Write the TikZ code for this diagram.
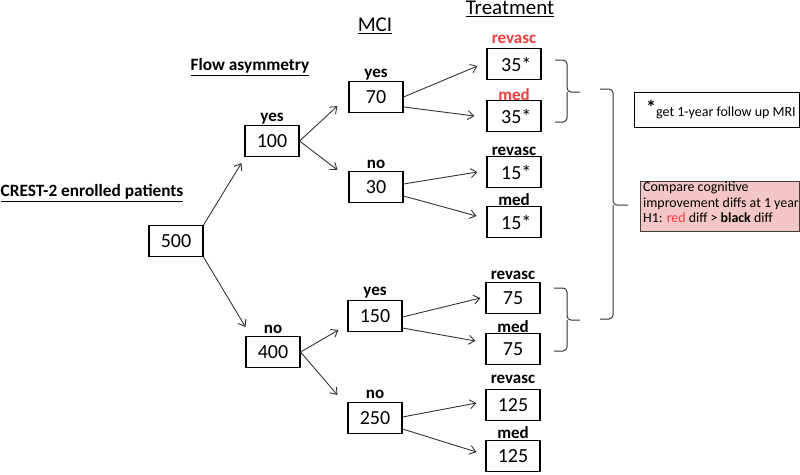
\documentclass[tikz,border=0pt]{standalone}
\usepackage{fontspec}
\setmainfont{Carlito}
\usetikzlibrary{arrows.meta,calc}
\definecolor{redtxt}{RGB}{240,60,60}
\definecolor{pinkfill}{RGB}{244,198,200}
\begin{document}
\begin{tikzpicture}[x=1pt,y=-1pt,
  box/.style={draw, line width=1.1pt, minimum width=54pt, minimum height=31pt, inner sep=0pt, font=\fontsize{20}{22}\selectfont},
  lab/.style={inner sep=0pt, font=\bfseries\fontsize{17}{19}\selectfont},
  head/.style={inner sep=0pt, font=\fontsize{21}{23}\selectfont},
  bhead/.style={inner sep=0pt, font=\bfseries\fontsize{17.3}{19}\selectfont},
  arr/.style={draw=black!80, line width=0.9pt, -{Straight Barb[length=6pt,width=9pt]}},
  brk/.style={draw=black!80, line width=1pt, rounded corners=4pt}
]
\useasboundingbox (0,0) rectangle (800,474);

% headings
\node[bhead] (hcrest) at (92,193) {\underline{CREST-2 enrolled patients}};
\node[bhead] (hflow) at (250,67) {\underline{Flow asymmetry}};
\node[head] (hmci) at (375,26) {\underline{MCI}};
\node[head] (htreat) at (510,9) {\underline{Treatment}};

% boxes
\node[box] (b500) at (176,241) {500};
\node[box] (b100) at (272,141) {100};
\node[box] (b400) at (273,352) {400};
\node[box] (b70) at (376,97) {70};
\node[box] (b30) at (376,187) {30};
\node[box] (b150) at (375,316) {150};
\node[box] (b250) at (375,418) {250};
\node[box] (r1) at (514,64) {\ 35*};
\node[box] (m1) at (514,116) {\ 35*};
\node[box] (r2) at (514,172) {\ 15*};
\node[box] (m2) at (514,222) {\ 15*};
\node[box] (r3) at (513,298) {75};
\node[box] (m3) at (513,349) {75};
\node[box] (r4) at (513,405) {125};
\node[box] (m4) at (513,456) {125};

% labels
\node[lab] (l100) at (272,119) {yes};
\node[lab] (l400) at (273,329) {no};
\node[lab] (l70) at (376,75) {yes};
\node[lab] (l30) at (376,164) {no};
\node[lab] (l150) at (375,293) {yes};
\node[lab] (l250) at (375,394) {no};
\node[lab,text=redtxt] (lr1) at (514,39) {revasc};
\node[lab,text=redtxt] (lm1) at (514,95) {med};
\node[lab] (lr2) at (514,151) {revasc};
\node[lab] (lm2) at (514,200) {med};
\node[lab] (lr3) at (513,275) {revasc};
\node[lab] (lm3) at (513,327) {med};
\node[lab] (lr4) at (513,379) {revasc};
\node[lab] (lm4) at (513,433) {med};

% arrows
\draw[arr] (b500.north east) -- ($(b100.south west)+(-3,6)$);
\draw[arr] (b500.south east) -- ($(b400.north west)+(0,-9)$);
\draw[arr] (b100.east) -- ($(b70.west)+(-11,9)$);
\draw[arr] (b100.east) -- ($(b30.west)+(-11,-17)$);
\draw[arr] (b400.east) -- ($(b150.west)+(-9,14)$);
\draw[arr] (b400.east) -- ($(b250.west)+(-10,-23)$);
\draw[arr] (b70.east) -- ($(r1.west)+(-9,2)$);
\draw[arr] ($(b70.east)+(0,10)$) -- ($(m1.west)+(-12,0)$);
\draw[arr] ($(b30.east)+(0,-3)$) -- ($(r2.west)+(-9,0)$);
\draw[arr] ($(b30.east)+(0,9)$) -- ($(m2.west)+(-10,-6)$);
\draw[arr] ($(b150.east)+(0,1)$) -- ($(r3.west)+(-5,0)$);
\draw[arr] ($(b150.east)+(0,12)$) -- ($(m3.west)+(-10,-8)$);
\draw[arr] ($(b250.east)+(0,-1)$) -- ($(r4.west)+(-9,-2)$);
\draw[arr] ($(b250.east)+(0,11)$) -- ($(m4.west)+(-9,-4)$);

% brackets
\coordinate (t1) at (580,92);
\coordinate (t2) at (580,320);
\coordinate (t3) at (628,205);
\draw[brk] (555,60) -| (567,92) -- (t1);
\draw[brk] (555,122) -| (567,92);
\draw[brk] (554,288) -| (567,320) -- (t2);
\draw[brk] (554,351) -| (567,320);
\draw[brk] (600,89) -| (613,205) -- (t3);
\draw[brk] (600,319) -| (613,205);

% note boxes
\node[draw, line width=1.1pt, anchor=north west, minimum width=165pt, minimum height=35pt, inner sep=0pt] (note) at (634,92) {};
\node[anchor=west, inner sep=0pt, font=\fontsize{14}{15}\selectfont] (notetxt) at (646,110) {\raisebox{2pt}{\fontsize{20}{20}\selectfont\bfseries *}get 1-year follow up MRI};
\node[draw=black!75, fill=pinkfill, line width=1pt, anchor=north west, minimum width=159pt, minimum height=50pt, inner sep=0pt] (pink) at (640,181) {};
\node[anchor=north west, inner sep=0pt, align=left, font=\fontsize{13.9}{15.2}\selectfont] (pinktxt) at (643,182) {Compare cognitive\\improvement diffs at 1 year\\H1: \textcolor{redtxt}{red} diff > \textbf{black} diff};
\end{tikzpicture}
\end{document}
